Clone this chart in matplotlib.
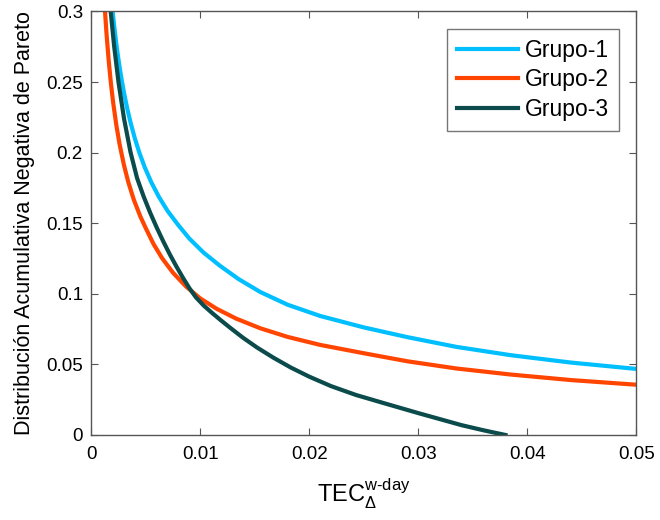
import numpy as np
import matplotlib
matplotlib.use('Agg')
import matplotlib.pyplot as plt

# ---------------------------------------------------------------------------
# Values (x = TEC, y = probability)
# ---------------------------------------------------------------------------
grupo1_x = [0.00196, 0.0021, 0.00225, 0.0024, 0.0026, 0.0028, 0.0030, 0.0033,
            0.0036, 0.0040, 0.0044, 0.0049, 0.0055, 0.0062, 0.0070, 0.0080,
            0.0090, 0.0103, 0.0118, 0.0135, 0.0155, 0.0180, 0.0210, 0.0250,
            0.0290, 0.0335, 0.0385, 0.0440, 0.0500]
grupo1_y = [0.3000, 0.2898, 0.2800, 0.2711, 0.2605, 0.2510, 0.2425, 0.2312,
            0.2214, 0.2100, 0.2002, 0.1897, 0.1791, 0.1687, 0.1587, 0.1485,
            0.1391, 0.1292, 0.1199, 0.1105, 0.1013, 0.0923, 0.0843, 0.0762,
            0.0693, 0.0624, 0.0565, 0.0513, 0.0468]

grupo2_x = [0.00126, 0.0014, 0.0016, 0.0018, 0.0020, 0.0023, 0.0026, 0.0030,
            0.0034, 0.0039, 0.0045, 0.0050, 0.0057, 0.0065, 0.0075, 0.0087,
            0.0100, 0.0115, 0.0133, 0.0155, 0.0180, 0.0210, 0.0250, 0.0290,
            0.0335, 0.0385, 0.0440, 0.0500]
grupo2_y = [0.3000, 0.2840, 0.2650, 0.2492, 0.2359, 0.2194, 0.2058, 0.1911,
            0.1790, 0.1667, 0.1548, 0.1465, 0.1354, 0.1252, 0.1149, 0.1051,
            0.0967, 0.0894, 0.0824, 0.0756, 0.0695, 0.0638, 0.0579, 0.0522,
            0.0471, 0.0428, 0.0389, 0.0356]

grupo3_x = [0.00178, 0.0021, 0.0025, 0.0030, 0.0036, 0.0042, 0.0048, 0.0054,
            0.0060, 0.0066, 0.0072, 0.0078, 0.0084, 0.0090, 0.0096, 0.0103,
            0.0110, 0.0118, 0.0127, 0.0139, 0.0152, 0.0167, 0.0183, 0.0200,
            0.0220, 0.0243, 0.0270, 0.0300, 0.0320, 0.0340, 0.0360, 0.0380]
grupo3_y = [0.3000, 0.2752, 0.2498, 0.2243, 0.2003, 0.1820, 0.1690, 0.1575,
            0.1470, 0.1372, 0.1280, 0.1195, 0.1115, 0.1040, 0.0975, 0.0918,
            0.0870, 0.0818, 0.0762, 0.0690, 0.0620, 0.0548, 0.0478, 0.0413,
            0.0346, 0.0283, 0.0222, 0.0155, 0.0112, 0.0069, 0.0033, 0.0000]

labels = ['Grupo-1', 'Grupo-2', 'Grupo-3']
colors = ['#00bfff', '#ff4500', '#0b4b4b']

x_ticks = [0, 0.01, 0.02, 0.03, 0.04, 0.05]
x_ticklabels = ['0', '0.01', '0.02', '0.03', '0.04', '0.05']
y_ticks = [0, 0.05, 0.1, 0.15, 0.2, 0.25, 0.3]
y_ticklabels = ['0', '0.05', '0.1', '0.15', '0.2', '0.25', '0.3']

plt.rcParams['font.family'] = ['Liberation Sans', 'DejaVu Sans']
plt.rcParams['mathtext.fontset'] = 'custom'
plt.rcParams['mathtext.rm'] = 'Liberation Sans'
plt.rcParams['mathtext.it'] = 'Liberation Sans'
plt.rcParams['mathtext.sf'] = 'Liberation Sans'

fig = plt.figure(figsize=(6.6, 5.2), dpi=100)
ax = fig.add_axes([0.1383, 0.1635, 0.964 - 0.1383, 0.978 - 0.1635])

for xs, ys, lab, col in zip([grupo1_x, grupo2_x, grupo3_x],
                            [grupo1_y, grupo2_y, grupo3_y], labels, colors):
    ax.plot(xs, ys, color=col, linewidth=3.0, label=lab,
            solid_joinstyle='round')

ax.set_xlim(0, 0.05)
ax.set_ylim(0, 0.3)
ax.set_xticks(x_ticks)
ax.set_xticklabels(x_ticklabels)
ax.set_yticks(y_ticks)
ax.set_yticklabels(y_ticklabels)

axcol = '#555555'
for sp in ax.spines.values():
    sp.set_color(axcol)
    sp.set_linewidth(1.0)
ax.tick_params(direction='in', length=5, width=0.8, color=axcol,
               top=True, right=True, labelsize=13.5, labelcolor='black')
ax.tick_params(axis='x', pad=8)
ax.tick_params(axis='y', pad=6)

ax.set_xlabel(r'TEC$_{\Delta}^{\text{w-day}}$', fontsize=17, labelpad=10)
ax.set_ylabel('Distribución Acumulativa Negativa de Pareto', fontsize=15.5,
              labelpad=8)

leg = ax.legend(loc='upper right', fontsize=16.5, frameon=True, fancybox=False,
                handlelength=2.65, borderaxespad=0.75, labelspacing=0.28,
                borderpad=0.45, handletextpad=0.3)
leg.get_frame().set_edgecolor(axcol)
leg.get_frame().set_linewidth(1.0)

plt.savefig('out.png', dpi=100)
plt.close()
